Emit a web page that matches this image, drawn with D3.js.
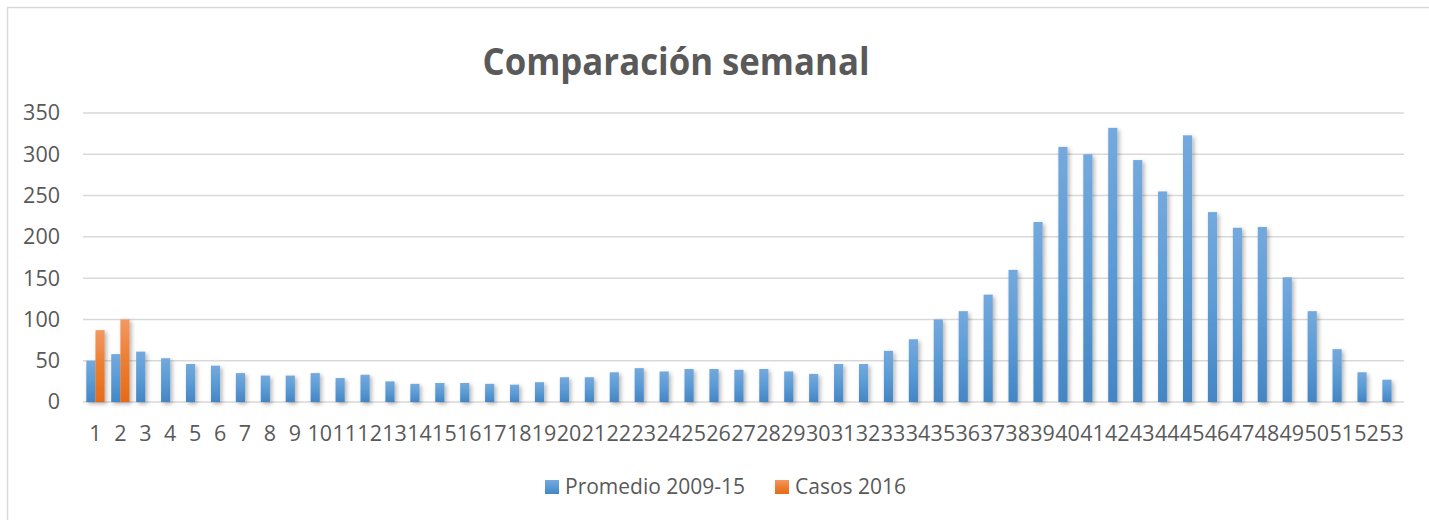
<!DOCTYPE html>
<html>
<head>
<meta charset="utf-8">
<script src="https://d3js.org/d3.v7.min.js"></script>
<style>
  body { margin: 0; background: #fff; }
  text { font-family: "Open Sans", "Noto Sans", sans-serif; fill: #595959; }
</style>
</head>
<body>
<svg width="1429" height="520"></svg>
<script>
// weeks on the x axis
const weeks = d3.range(1, 54).map(String);

// weekly average 2009-15
const promedio = [50, 58, 61, 53, 46, 44, 35, 32, 32, 35,
                  29, 33, 25, 22, 23, 23, 22, 21, 24, 30,
                  30, 36, 41, 37, 40, 40, 39, 40, 37, 34,
                  46, 46, 62, 76, 100, 110, 130, 160, 218, 309,
                  300, 332, 293, 255, 323, 230, 211, 212, 151, 110,
                  64, 36, 27];

// cases 2016 (only first weeks)
const casos = [87, 100];

const seriesNames = ["Promedio 2009-15", "Casos 2016"];
const yTicks = [0, 50, 100, 150, 200, 250, 300, 350];

const svg = d3.select("svg");

// chart area border
svg.append("rect")
    .attr("x", 7.5).attr("y", 7.5)
    .attr("width", 1440).attr("height", 540)
    .attr("fill", "none")
    .attr("stroke", "#d9d9d9")
    .attr("stroke-width", 1.5);

// defs: gradients + shadow
const defs = svg.append("defs");
const grads = [
    { id: "gBlue", top: "#74a9dd", mid: "#5b9bd5", bot: "#4485c4" },
    { id: "gOrange", top: "#f39862", mid: "#ed7d31", bot: "#e66b19" }
];
grads.forEach(g => {
    const lg = defs.append("linearGradient").attr("id", g.id)
        .attr("x1", 0).attr("y1", 0).attr("x2", 0).attr("y2", 1);
    lg.append("stop").attr("offset", "0%").attr("stop-color", g.top);
    lg.append("stop").attr("offset", "50%").attr("stop-color", g.mid);
    lg.append("stop").attr("offset", "100%").attr("stop-color", g.bot);
});
const shadow = defs.append("filter").attr("id", "shadow")
    .attr("x", "-50%").attr("y", "-10%").attr("width", "200%").attr("height", "130%");
shadow.append("feDropShadow")
    .attr("dx", 2).attr("dy", 2).attr("stdDeviation", 2)
    .attr("flood-color", "#000").attr("flood-opacity", 0.3);

// title
svg.append("text")
    .attr("x", 676).attr("y", 75)
    .attr("text-anchor", "middle")
    .attr("font-size", 38)
    .attr("font-weight", "bold")
    .attr("textLength", 387)
    .attr("lengthAdjust", "spacingAndGlyphs")
    .text("Comparación semanal");

// scales
const x = d3.scaleBand().domain(weeks).range([83, 1404]).paddingInner(0.265).paddingOuter(0.1325);
const xs = d3.scaleBand().domain(seriesNames).range([0, x.bandwidth()]);
const y = d3.scaleLinear().domain([0, 350]).range([402, 113]);

// gridlines
svg.append("g")
    .selectAll("line")
    .data(yTicks)
    .join("line")
    .attr("x1", 83).attr("x2", 1404)
    .attr("y1", d => y(d)).attr("y2", d => y(d))
    .attr("stroke", "#d9d9d9")
    .attr("stroke-width", 1.5);

// y axis labels
const yAxis = d3.axisLeft(y).tickValues(yTicks).tickSize(0).tickPadding(0);
svg.append("g")
    .attr("transform", "translate(60,0)")
    .call(yAxis)
    .call(g => g.select(".domain").remove())
    .call(g => g.selectAll("text")
        .attr("font-size", 21.5)
        .attr("fill", "#595959")
        .attr("font-family", "Open Sans, Noto Sans, sans-serif"));

// x axis labels
const xAxis = d3.axisBottom(x).tickSize(0).tickPadding(0);
svg.append("g")
    .attr("transform", "translate(0,402)")
    .call(xAxis)
    .call(g => g.select(".domain").remove())
    .call(g => g.selectAll("text")
        .attr("dy", null)
        .attr("y", 39)
        .attr("font-size", 21.5)
        .attr("fill", "#595959")
        .attr("font-family", "Open Sans, Noto Sans, sans-serif"));

// bars
const table = weeks.map((w, i) => ({
    week: w,
    values: [
        { s: seriesNames[0], v: promedio[i], fill: "url(#gBlue)" },
        { s: seriesNames[1], v: casos[i], fill: "url(#gOrange)" }
    ].filter(d => d.v != null)
}));

svg.append("g")
    .attr("filter", "url(#shadow)")
    .selectAll("g")
    .data(table)
    .join("g")
    .attr("transform", d => `translate(${x(d.week)},0)`)
    .selectAll("rect")
    .data(d => d.values)
    .join("rect")
    .attr("x", d => xs(d.s))
    .attr("width", xs.bandwidth())
    .attr("y", d => y(d.v))
    .attr("height", d => y(0) - y(d.v))
    .attr("fill", d => d.fill);

// legend
const legend = svg.append("g");
const legendItems = [
    { name: seriesNames[0], x: 545, fill: "url(#gBlue)" },
    { name: seriesNames[1], x: 775, fill: "url(#gOrange)" }
];
legendItems.forEach(it => {
    legend.append("rect")
        .attr("x", it.x).attr("y", 480)
        .attr("width", 14).attr("height", 14)
        .attr("fill", it.fill);
    legend.append("text")
        .attr("x", it.x + 20).attr("y", 494)
        .attr("font-size", 21)
        .text(it.name);
});
</script>
</body>
</html>
